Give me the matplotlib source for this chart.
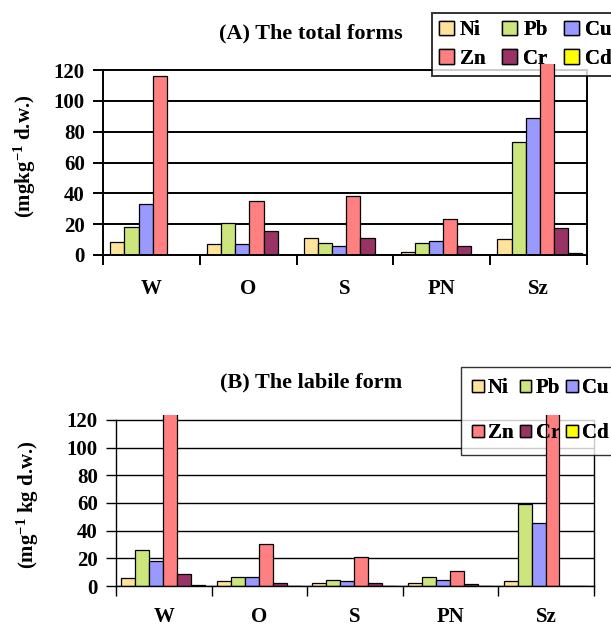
import numpy as np
import matplotlib
matplotlib.use('Agg')
import matplotlib.pyplot as plt
from matplotlib.patches import Patch

plt.rcParams['font.family'] = ['Liberation Serif', 'DejaVu Serif']
plt.rcParams['font.weight'] = 'bold'
plt.rcParams['mathtext.fontset'] = 'custom'
plt.rcParams['mathtext.rm'] = 'Liberation Serif:bold'
plt.rcParams['mathtext.default'] = 'rm'

# Data
sites = ['W', 'O', 'S', 'PN', 'Sz']
metals = ['Ni', 'Pb', 'Cu', 'Zn', 'Cr', 'Cd']
colors = ['#FFE39B', '#CCE57D', '#9999FF', '#FF8080', '#993366', '#FFFF00']

# (A) total forms, mg/kg d.w. (Sz Zn runs off the top of the chart)
total_ni = [8.4, 7.1, 11.0, 2.0, 10.4]
total_pb = [18.2, 20.8, 8.0, 7.8, 73.6]
total_cu = [32.9, 7.1, 5.8, 9.1, 89.2]
total_zn = [115.9, 35.3, 38.1, 23.2, 125.0]
total_cr = [0.0, 15.4, 11.0, 6.1, 17.3]
total_cd = [0.0, 0.3, 0.3, 0.3, 1.2]

# (B) labile form (W and Sz Zn run off the top)
labile_ni = [5.5, 3.4, 2.2, 2.2, 3.4]
labile_pb = [26.3, 6.2, 4.3, 6.2, 59.0]
labile_cu = [18.2, 6.2, 3.6, 4.6, 45.3]
labile_zn = [125.0, 30.7, 20.8, 10.5, 125.0]
labile_cr = [8.4, 2.4, 2.2, 1.2, 0.0]
labile_cd = [1.0, 0.0, 0.0, 0.0, 0.0]

total = [total_ni, total_pb, total_cu, total_zn, total_cr, total_cd]
labile = [labile_ni, labile_pb, labile_cu, labile_zn, labile_cr, labile_cd]

W, H = 611, 628
fig = plt.figure(figsize=(W / 100, H / 100), dpi=100)


def panel(rect, series, ymax, offset, title, title_y, ylabel, ylab_xy,
          leg_xy, leg_kw, lw, xpad):
    ax = fig.add_axes(rect)
    bw = 0.146
    x = np.arange(len(sites))
    for k, vals in enumerate(series):
        ax.bar(x + offset + k * bw, vals, width=bw, align='edge',
               color=colors[k], edgecolor='black', linewidth=0.9, zorder=2)
    ax.set_xlim(0, 5)
    ax.set_ylim(0, ymax)
    ax.set_yticks(np.arange(0, 121, 20))
    ax.yaxis.grid(True, color='black', linewidth=lw)
    ax.set_axisbelow(True)
    ax.spines['top'].set_visible(False)
    for s in ['left', 'right']:
        ax.spines[s].set_bounds(0, 120)
        ax.spines[s].set_linewidth(lw)
    ax.spines['right'].set_zorder(0.6)
    ax.spines['bottom'].set_linewidth(lw)
    ax.set_xticks(np.arange(0, 6))
    ax.set_xticklabels([])
    ax.set_xticks(x + 0.5, minor=True)
    ax.set_xticklabels(sites, minor=True, fontsize=15, fontweight='bold')
    ax.tick_params(axis='x', which='major', length=7, width=lw, direction='out')
    ax.tick_params(axis='x', which='minor', length=0, pad=xpad)
    ax.tick_params(axis='y', length=7, width=lw, pad=6, labelsize=15)
    for t in ax.get_yticklabels():
        t.set_fontweight('bold')

    fig.text(311 / W, 1 - title_y / H, title, ha='center', va='center',
             fontsize=16, fontweight='bold')
    fig.text(ylab_xy[0] / W, 1 - ylab_xy[1] / H, ylabel, rotation=90,
             ha='center', va='center', fontsize=15, fontweight='bold')

    handles = [Patch(facecolor=colors[k], edgecolor='black', linewidth=1.0)
               for k in range(6)]
    order = [0, 3, 1, 4, 2, 5]

    # legend box sits under the bars, its entries are drawn on top of them
    legs = []
    for frame in (True, False):
        leg = ax.legend([handles[i] for i in order], [metals[i] for i in order],
                        ncol=3, loc='upper left',
                        bbox_to_anchor=(leg_xy[0] / W, 1 - leg_xy[1] / H),
                        bbox_transform=fig.transFigure, borderaxespad=0,
                        fancybox=False, frameon=frame,
                        prop={'family': 'Liberation Serif', 'weight': 'bold',
                              'size': 15},
                        **leg_kw)
        leg.get_frame().set_edgecolor('black')
        leg.get_frame().set_linewidth(lw)
        legs.append(leg)
    legs[0].set_zorder(0.8)
    legs[1].set_zorder(3)
    ax.add_artist(legs[0])
    return ax


panel([103 / W, (H - 255) / H, 484 / W, (255 - 64) / H], total, 124, 0.075,
      '(A) The total forms', 33, r'(mgkg$^{-1}$ d.w.)', (25, 156),
      (432, 13),
      dict(handlelength=0.7, handleheight=0.7, handletextpad=0.3,
           columnspacing=0.8, labelspacing=0.42, borderpad=0.35), 1.4, 17)

panel([116 / W, 42 / H, 478 / W, (586 - 415) / H], labile, 123.6, 0.055,
      '(B) The labile form', 382, r'(mg$^{-1}$ kg d.w.)', (28, 505),
      (461, 367),
      dict(handlelength=0.55, handleheight=0.55, handletextpad=0.2,
           columnspacing=0.3, labelspacing=1.2, borderpad=0.55), 1.0, 15)

fig.savefig('out.png', dpi=100)
